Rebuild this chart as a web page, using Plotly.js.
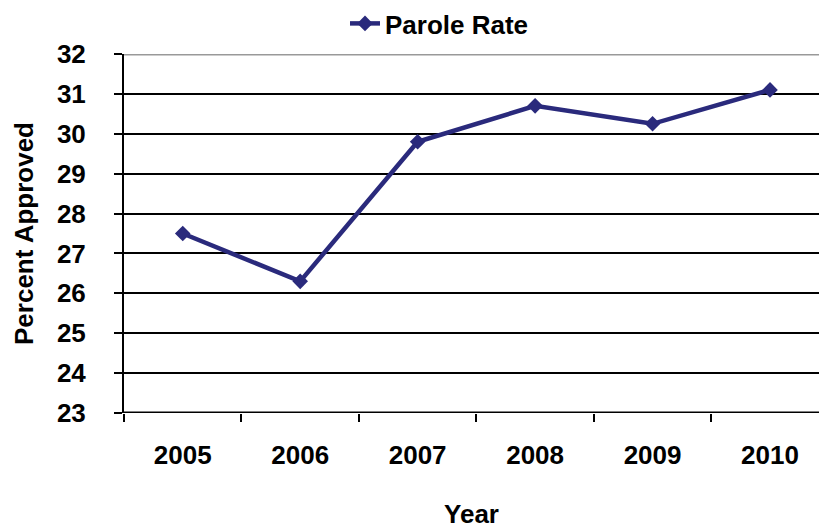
<!DOCTYPE html>
<html>
<head>
<meta charset="utf-8">
<script src="https://cdn.plot.ly/plotly-3.0.1.min.js"></script>
<style>html,body{margin:0;padding:0;background:#fff;}#chart{width:819px;height:529px;}</style>
</head>
<body>
<div id="chart"></div>
<script>
const years = ['2005', '2006', '2007', '2008', '2009', '2010'];
const paroleRate = [27.5, 26.3, 29.8, 30.7, 30.25, 31.1];
const yTicks = [23, 24, 25, 26, 27, 28, 29, 30, 31, 32];

const FONT = 'Liberation Sans, Arial, sans-serif';
const navy = '#2a2a7c';
const F = {family: FONT, size: 26, color: '#000', weight: 'bold'};

const trace = {
  x: years,
  y: paroleRate,
  type: 'scatter',
  mode: 'lines+markers',
  name: 'Parole Rate',
  line: {color: navy, width: 4.5},
  marker: {symbol: 'diamond', size: 12, color: navy}
};

const layout = {
  width: 819, height: 529,
  margin: {l: 124, r: 0, t: 54, b: 116, pad: 0},
  paper_bgcolor: '#fff', plot_bgcolor: '#fff',
  font: F,
  showlegend: true,
  legend: {
    orientation: 'h', x: 0.318, xanchor: 'left', y: 1.0, yanchor: 'top',
    yref: 'container',
    font: F,
    bgcolor: 'rgba(0,0,0,0)'
  },
  xaxis: {
    type: 'category',
    range: [-0.5, 5.417],
    tickson: 'boundaries',
    ticks: 'outside', ticklen: 8, tickwidth: 2, tickcolor: '#000',
    showline: false, showgrid: false, zeroline: false,
    ticklabelstandoff: 24,
    tickfont: F,
    title: {text: 'Year', standoff: 40, font: F}
  },
  yaxis: {
    range: [23, 32],
    tickvals: yTicks,
    ticktext: yTicks.map(String),
    ticks: 'outside', ticklen: 8, tickwidth: 2, tickcolor: '#000',
    showline: true, linecolor: '#000', linewidth: 2,
    showgrid: true, gridcolor: '#000', gridwidth: 2,
    zeroline: false,
    ticklabelstandoff: 23,
    tickfont: F,
    title: {text: 'Percent Approved', standoff: 16, font: F}
  },
  shapes: [
    {type: 'line', xref: 'paper', yref: 'y', x0: 0, x1: 1, y0: 32, y1: 32, line: {color: '#999', width: 3}, layer: 'above'},
    {type: 'line', xref: 'paper', yref: 'y', x0: 0, x1: 1, y0: 23, y1: 23, line: {color: '#000', width: 3}, layer: 'below'}
  ]
};

Plotly.newPlot('chart', [trace], layout, {displayModeBar: false, staticPlot: true});
</script>
</body>
</html>
